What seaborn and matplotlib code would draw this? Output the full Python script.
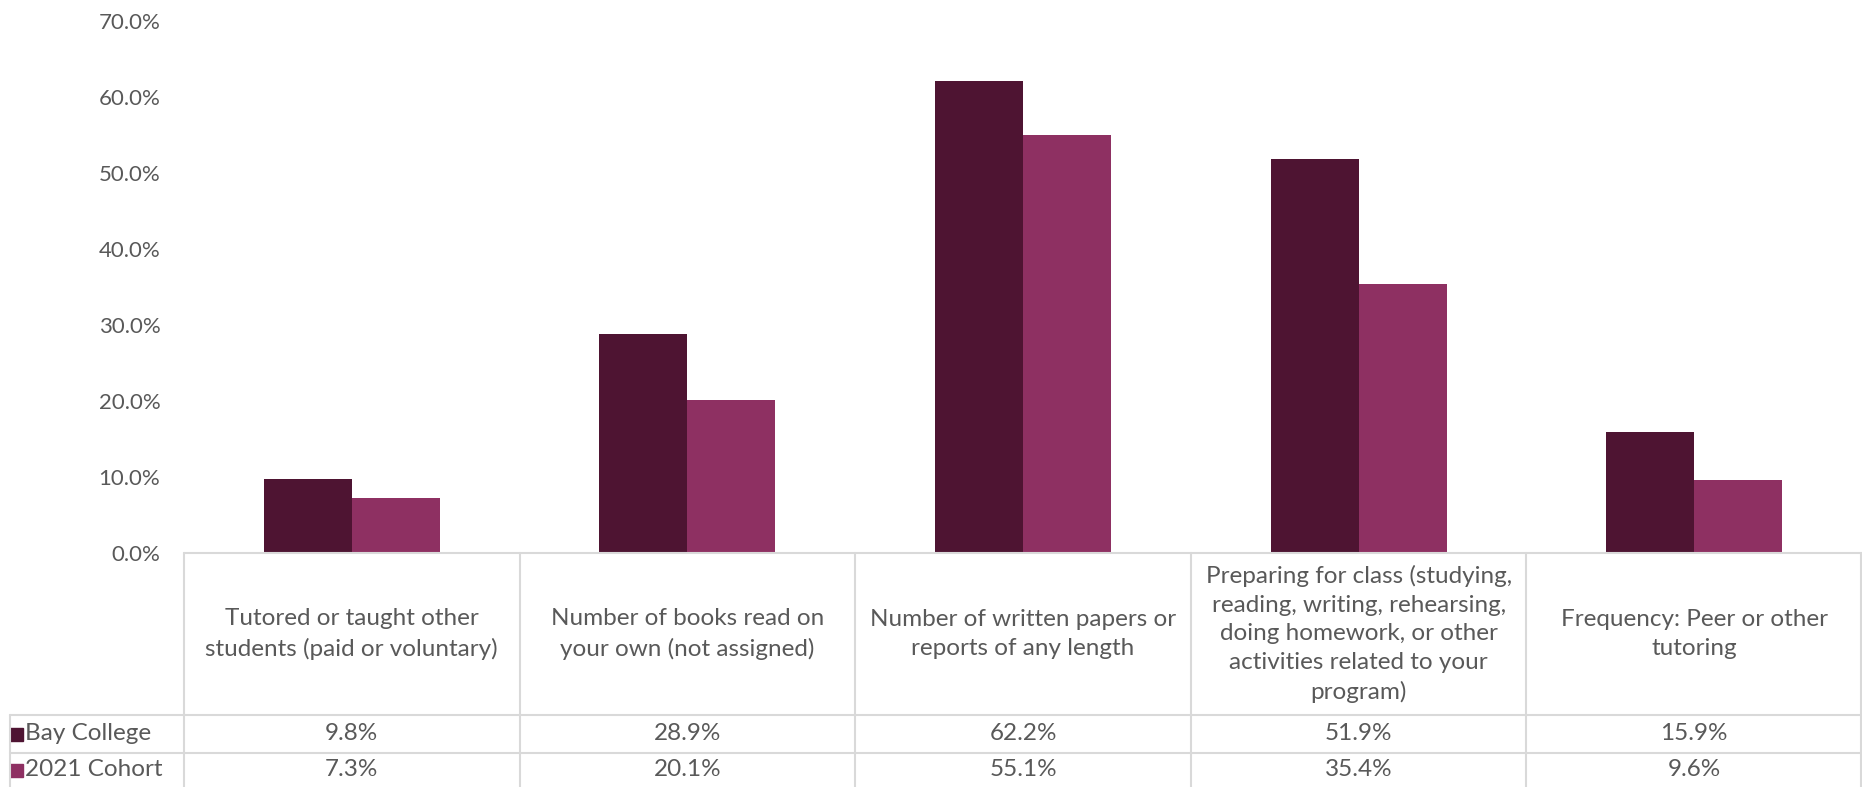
import matplotlib
matplotlib.use("Agg")
import matplotlib.pyplot as plt
import seaborn as sns
import pandas as pd
from matplotlib.lines import Line2D
from matplotlib.patches import Rectangle

categories = [
    "Tutored or taught other\nstudents (paid or voluntary)",
    "Number of books read on\nyour own (not assigned)",
    "Number of written papers or\nreports of any length",
    "Preparing for class (studying,\nreading, writing, rehearsing,\ndoing homework, or other\nactivities related to your\nprogram)",
    "Frequency: Peer or other\ntutoring",
]
series_names = ["Bay College", "2021 Cohort"]
bay_college = [9.8, 28.9, 62.2, 51.9, 15.9]
cohort_2021 = [7.3, 20.1, 55.1, 35.4, 9.6]
yticks = [0, 10, 20, 30, 40, 50, 60, 70]
colors = ["#4E1432", "#8E3062"]
text_color = "#595959"
grid_color = "#D9D9D9"

sns.set_theme(style="white")
plt.rcParams["font.family"] = ["Lato", "DejaVu Sans"]

W, H = 1862, 787
fig = plt.figure(figsize=(W / 100, H / 100), dpi=100)

def fx(x):
    return x / W

def fy(y):
    return 1 - y / H

left, right, top, bottom = 184, 1862, 21.4, 553
ax = fig.add_axes([fx(left), fy(bottom), fx(right) - fx(left), fy(top) - fy(bottom)])

df = pd.DataFrame({
    "cat": list(range(len(categories))) * 2,
    "series": [series_names[0]] * len(categories) + [series_names[1]] * len(categories),
    "value": bay_college + cohort_2021,
})
sns.barplot(data=df, x="cat", y="value", hue="series", hue_order=series_names,
            palette=colors, width=0.525, gap=0, linewidth=0, saturation=1,
            legend=False, ax=ax)
ax.set_xlim(-0.5, len(categories) - 0.5)
ax.set_ylim(0, 70)
ax.set_yticks(yticks)
ax.set_yticklabels([f"{v:.1f}%" for v in yticks], color=text_color, fontsize=16)
ax.tick_params(axis="y", length=0, pad=17)
ax.set_xticks([])
ax.set_xlabel("")
ax.set_ylabel("")
for s in ax.spines.values():
    s.set_visible(False)

# Data table
col_w = (right - left) / len(categories)
col_edges = [left + i * col_w for i in range(len(categories) + 1)]
tbl_left = 10
fs = 17.5

def hline(x0, x1, y):
    fig.add_artist(Line2D([fx(x0), fx(x1)], [fy(y), fy(y)], color=grid_color, lw=1.5,
                          transform=fig.transFigure))

def vline(x, y0, y1):
    fig.add_artist(Line2D([fx(x), fx(x)], [fy(y0), fy(y1)], color=grid_color, lw=1.5,
                          transform=fig.transFigure))

hline(left, right, 553)
hline(tbl_left, right, 715)
hline(tbl_left, right, 753)
for x in col_edges:
    vline(min(x, right - 1), 553, 787)
vline(tbl_left, 715, 787)

for i, cat in enumerate(categories):
    cx = (col_edges[i] + col_edges[i + 1]) / 2
    fig.text(fx(cx), fy(634), cat, ha="center", va="center", fontsize=fs,
             color=text_color, linespacing=1.45)
    fig.text(fx(cx), fy(734), f"{bay_college[i]:.1f}%", ha="center", va="center",
             fontsize=fs, color=text_color)
    fig.text(fx(cx), fy(770), f"{cohort_2021[i]:.1f}%", ha="center", va="center",
             fontsize=fs, color=text_color)

for j, (name, yc) in enumerate(zip(series_names, [734, 770])):
    fig.add_artist(Rectangle((fx(10), fy(yc + 7)), fx(13), (13 / H), color=colors[j],
                             transform=fig.transFigure))
    fig.text(fx(25), fy(yc), name, ha="left", va="center", fontsize=fs, color=text_color)

fig.savefig("out.png", dpi=100)
